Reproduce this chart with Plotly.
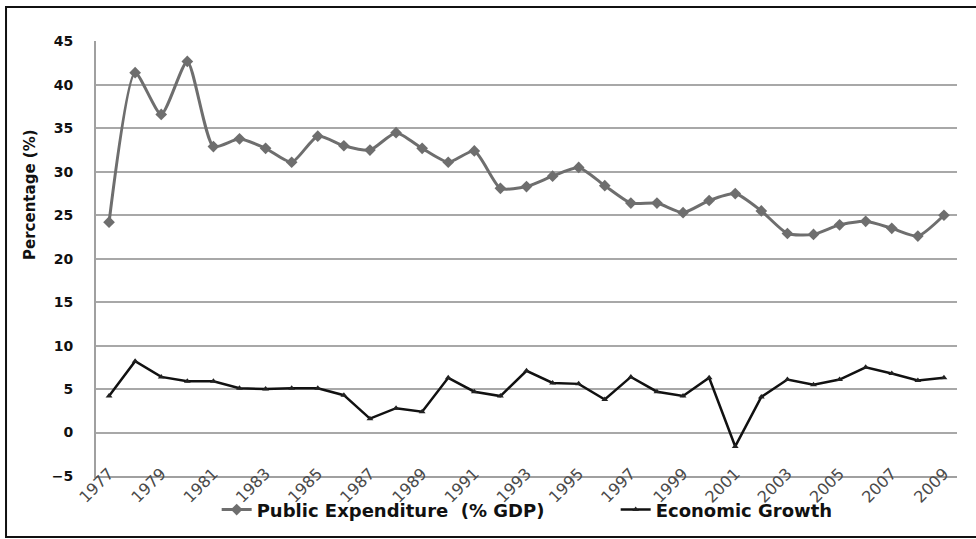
import plotly.graph_objects as go

years = [str(y) for y in range(1977, 2010)]
public_exp = [24.2, 41.4, 36.6, 42.7, 32.9, 33.8, 32.7, 31.1, 34.1, 33.0,
              32.5, 34.5, 32.7, 31.1, 32.4, 28.1, 28.3, 29.5, 30.5, 28.4,
              26.4, 26.4, 25.3, 26.7, 27.5, 25.5, 22.9, 22.8, 23.9, 24.3,
              23.5, 22.6, 25.0]
econ_growth = [4.2, 8.2, 6.4, 5.9, 5.9, 5.1, 5.0, 5.1, 5.1, 4.3,
               1.6, 2.8, 2.4, 6.3, 4.7, 4.2, 7.1, 5.7, 5.6, 3.8,
               6.4, 4.7, 4.2, 6.3, -1.6, 4.1, 6.1, 5.5, 6.1, 7.5,
               6.8, 6.0, 6.3]
x_ticks = [str(y) for y in range(1977, 2010, 2)]
y_ticks = [-5, 0, 5, 10, 15, 20, 25, 30, 35, 40, 45]
y_title = "Percentage (%)"

fig = go.Figure()
fig.add_trace(go.Scatter(
    x=years, y=public_exp, name="Public Expenditure  (% GDP)",
    mode="lines+markers", line=dict(color="#6e6e6e", width=3, shape="spline", smoothing=0.6),
    marker=dict(symbol="diamond", size=9, color="#6e6e6e")))
fig.add_trace(go.Scatter(
    x=years, y=econ_growth, name="Economic Growth",
    mode="lines+markers", line=dict(color="#111111", width=2.5),
    marker=dict(symbol="triangle-up", size=6, color="#222222")))

fig.update_layout(
    width=976, height=539,
    margin=dict(l=96, r=19, t=41, b=63, autoexpand=False),
    paper_bgcolor="white", plot_bgcolor="white",
    font=dict(family="DejaVu Sans", color="#111111"),
    showlegend=True,
    legend=dict(orientation="h", x=0.222, xanchor="left", xref="container",
                y=0.054, yanchor="middle", yref="container",
                bgcolor="rgba(0,0,0,0)",
                font=dict(size=18, weight="bold", color="#111111"),
                itemwidth=30, entrywidth=354, entrywidthmode="pixels",
                tracegroupgap=0),
    shapes=[dict(type="rect", xref="paper", yref="paper",
                 x0=-0.1045, x1=1.03, y0=-0.14, y1=1.078,
                 line=dict(color="#111111", width=2), layer="below")],
    annotations=[dict(text=y_title, xref="paper", yref="paper",
                      x=-0.0767, y=0.646, textangle=-90, showarrow=False,
                      xanchor="center", yanchor="middle",
                      font=dict(size=15, weight="bold", color="#111111"))],
)
fig.update_xaxes(type="category", tickmode="array", tickvals=x_ticks, ticktext=x_ticks,
                 tickangle=-45, tickfont=dict(size=16, color="#4a4a4a"),
                 showgrid=False, showline=True, linecolor="#a0a0a0", linewidth=2,
                 ticks="", range=[-0.5, 32.5], automargin=False,
                 ticklabelstandoff=-20)
fig.update_yaxes(range=[-5, 45.05], tickmode="array", tickvals=y_ticks,
                 tickfont=dict(size=14, weight="bold", color="#111111"),
                 showgrid=True, gridcolor="#a8a8a8", gridwidth=2, zeroline=False,
                 showline=True, linecolor="#a0a0a0", linewidth=2,
                 ticks="", ticklabelstandoff=18, automargin=False)

fig.write_html("out.html")
